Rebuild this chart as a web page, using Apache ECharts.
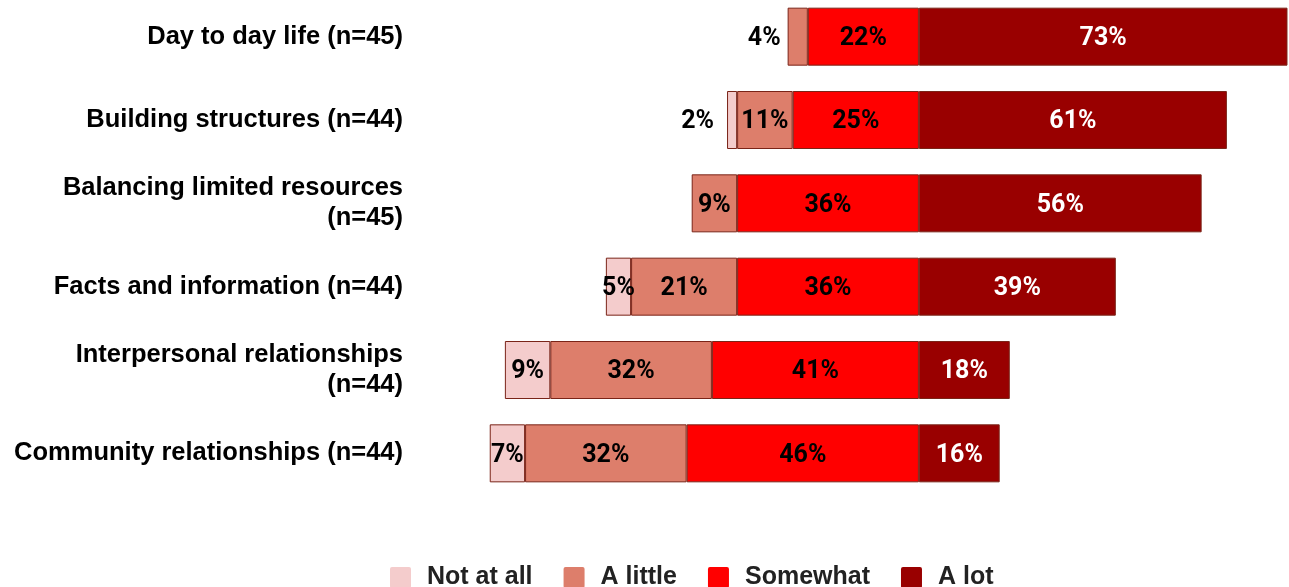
<!DOCTYPE html>
<html>
<head>
<meta charset="utf-8">
<script src="https://cdn.jsdelivr.net/npm/echarts@6/dist/echarts.min.js"></script>
<style>html,body{margin:0;padding:0;background:#fff;}#c{width:1289px;height:587px;}</style>
</head>
<body>
<div id="c"></div>
<script>
const categories = [
  'Day to day life (n=45)',
  'Building structures (n=44)',
  'Balancing limited resources\n(n=45)',
  'Facts and information (n=44)',
  'Interpersonal relationships\n(n=44)',
  'Community relationships (n=44)'
];
const seriesNames = ['Not at all', 'A little', 'Somewhat', 'A lot'];
const notAtAll = [0, 2, 0, 5, 9, 7];
const aLittle = [4, 11, 9, 21, 32, 32];
const somewhat = [22, 25, 36, 36, 41, 46];
const aLot = [73, 61, 56, 39, 18, 16];
// segments whose label sits outside the bar, to its left (row indices)
const outsideLabels = { 'Not at all': [1], 'A little': [0] };

const colors = { 'Not at all': '#F4CCCC', 'A little': '#DD7E6B', 'Somewhat': '#FF0000', 'A lot': '#990000' };
const outsideDistance = { 'Not at all': 13, 'A little': 7 };

function makeSeries(name, values, negative, textColor) {
  const outs = outsideLabels[name] || [];
  return {
    name: name,
    type: 'bar',
    stack: 'total',
    barWidth: 58,
    itemStyle: { color: colors[name], borderColor: '#7a2418', borderWidth: 1 },
    label: {
      show: true,
      position: 'inside',
      offset: [0, 2],
      color: textColor,
      fontFamily: 'Roboto',
      fontWeight: 'bold',
      fontSize: 25,
      formatter: p => Math.abs(p.value) + '%'
    },
    data: values.map((v, i) => {
      if (v === 0) return { value: '-' };
      const item = { value: negative ? -v : v };
      if (outs.indexOf(i) >= 0) item.label = { position: 'left', distance: outsideDistance[name] };
      return item;
    })
  };
}

const chart = echarts.init(document.getElementById('c'));
chart.setOption({
  animation: false,
  grid: { left: 414, right: 0, top: -5, height: 500, containLabel: false, outerBoundsMode: 'none' },
  legend: {
    data: seriesNames,
    left: 385,
    top: 560,
    itemWidth: 21,
    itemHeight: 21,
    itemGap: 31,
    icon: 'path://M2,0 L19,0 Q21,0 21,2 L21,19 Q21,21 19,21 L2,21 Q0,21 0,19 L0,2 Q0,0 2,0 Z',
    itemStyle: { borderWidth: 0 },
    textStyle: { fontFamily: 'Liberation Sans', fontWeight: 'bold', fontSize: 25, color: '#222', padding: [0, 0, 0, 11] }
  },
  xAxis: {
    type: 'value', min: -100, max: 73.3,
    show: false, splitLine: { show: false }
  },
  yAxis: {
    type: 'category',
    data: categories,
    inverse: true,
    axisLine: { show: false },
    axisTick: { show: false },
    axisLabel: {
      margin: 11,
      fontFamily: 'Liberation Sans',
      fontWeight: 'bold',
      fontSize: 25.5,
      lineHeight: 30,
      color: '#000',
      align: 'right'
    }
  },
  series: [
    makeSeries('Somewhat', somewhat, true, '#000'),
    makeSeries('A little', aLittle, true, '#000'),
    makeSeries('Not at all', notAtAll, true, '#000'),
    makeSeries('A lot', aLot, false, '#fff')
  ]
});
</script>
</body>
</html>
